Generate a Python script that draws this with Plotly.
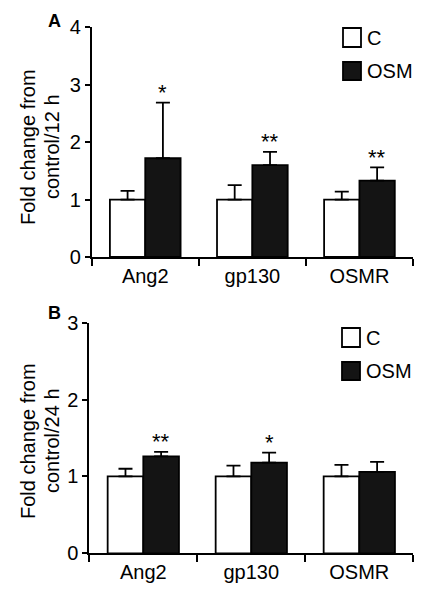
import plotly.graph_objects as go

categories = ["Ang2", "gp130", "OSMR"]

# Panel A (12 h)
a_c = [1.0, 1.0, 1.0]
a_c_err = [0.15, 0.25, 0.14]
a_osm = [1.72, 1.60, 1.33]
a_osm_err = [0.97, 0.23, 0.23]
a_stars = ["*", "**", "**"]
a_title = ["Fold change from", "control/12 h"]

# Panel B (24 h)
b_c = [1.0, 1.0, 1.0]
b_c_err = [0.10, 0.14, 0.15]
b_osm = [1.26, 1.18, 1.06]
b_osm_err = [0.06, 0.13, 0.13]
b_stars = ["**", "*", ""]
b_title = ["Fold change from", "control/24 h"]

a_ticks = [0, 1, 2, 3, 4]
b_ticks = [0, 1, 2, 3]

FONT = "Liberation Sans, Arial, sans-serif"
BARGAP = 0.34
OFF = 8                      # page body margin
W, H = 436 - OFF, 599 - OFF


def px(x):
    return (x - OFF) / W


def py(y):
    return 1 - (y - OFF) / H


fig = go.Figure()


def add_panel(c, cerr, osm, oerr, xa, ya):
    fig.add_trace(go.Bar(
        x=categories, y=c, name="C", xaxis=xa, yaxis=ya, showlegend=False,
        marker=dict(color="white", line=dict(color="black", width=1.8)),
        error_y=dict(type="data", symmetric=False, array=cerr,
                     arrayminus=[0] * len(cerr), color="black", thickness=1.8, width=7),
    ))
    fig.add_trace(go.Bar(
        x=categories, y=osm, name="OSM", xaxis=xa, yaxis=ya, showlegend=False,
        marker=dict(color="#141414", line=dict(color="black", width=1.8)),
        error_y=dict(type="data", symmetric=False, array=oerr,
                     arrayminus=[0] * len(oerr), color="black", thickness=1.8, width=7),
    ))


add_panel(a_c, a_c_err, a_osm, a_osm_err, "x", "y")
add_panel(b_c, b_c_err, b_osm, b_osm_err, "x2", "y2")

line_common = dict(showline=True, linecolor="black", linewidth=1.8,
                   showgrid=False, zeroline=False, ticks="outside",
                   tickcolor="black", tickwidth=1.8, automargin=False)
xtf = dict(family=FONT, size=20, color="black")
ytf = dict(family=FONT, size=20, color="black")

fig.update_layout(
    width=W, height=H,
    margin=dict(l=0, r=0, t=0, b=0, pad=0, autoexpand=False),
    paper_bgcolor="white", plot_bgcolor="white",
    showlegend=False,
    barmode="group", bargap=BARGAP, bargroupgap=0,
    xaxis=dict(domain=[px(91.7), px(413)], anchor="y", tickson="boundaries",
               ticklen=7, range=[-0.5, 2.5], tickfont=xtf, **line_common),
    yaxis=dict(domain=[py(257), py(27.3)], anchor="x", range=[0, 4],
               tickvals=a_ticks, ticklen=5, tickfont=ytf, **line_common),
    xaxis2=dict(domain=[px(89.3), px(413.3)], anchor="y2", tickson="boundaries",
                ticklen=7, range=[-0.5, 2.5], tickfont=xtf, **line_common),
    yaxis2=dict(domain=[py(553.3), py(322.7)], anchor="x2", range=[0, 3],
                tickvals=b_ticks, ticklen=5, tickfont=ytf, **line_common),
)

# y-axis titles (two rotated lines each)
for lines, yc in [(a_title, 147), (b_title, 441)]:
    for text, xc in zip(lines, [28, 52]):
        fig.add_annotation(x=px(xc), y=py(yc), xref="paper", yref="paper", text=text,
                           textangle=-90, showarrow=False, xanchor="center", yanchor="middle",
                           font=dict(family=FONT, size=20, color="black"))

# significance stars over OSM bars
osm_off = (1 - BARGAP) / 4
for xa, ya, vals, errs, stars in [("x", "y", a_osm, a_osm_err, a_stars),
                                  ("x2", "y2", b_osm, b_osm_err, b_stars)]:
    for i, s in enumerate(stars):
        if s:
            fig.add_annotation(x=i + osm_off, y=vals[i] + errs[i], xref=xa, yref=ya,
                               text=s, showarrow=False, yanchor="middle", yshift=10,
                               font=dict(family=FONT, size=22, color="black"))

# panel letters
fig.add_annotation(x=px(46), y=py(21), xref="paper", yref="paper", text="<b>A</b>",
                   showarrow=False, xanchor="left", yanchor="middle",
                   font=dict(family=FONT, size=18, color="black"))
fig.add_annotation(x=px(46), y=py(313), xref="paper", yref="paper", text="<b>B</b>",
                   showarrow=False, xanchor="left", yanchor="middle",
                   font=dict(family=FONT, size=18, color="black"))

# legends (one per panel)
legend_specs = [
    (343, [(28, 47, "white", "C"), (62, 80, "#141414", "OSM")]),
    (342, [(328, 347, "white", "C"), (362, 380, "#141414", "OSM")]),
]
for x0, items in legend_specs:
    for y0, y1, col, label in items:
        fig.add_shape(type="rect", xref="paper", yref="paper",
                      x0=px(x0), x1=px(x0 + 18), y0=py(y1), y1=py(y0),
                      fillcolor=col, line=dict(color="black", width=1.8))
        fig.add_annotation(x=px(x0 + 22), y=py((y0 + y1) / 2), xref="paper", yref="paper",
                           text=label, showarrow=False, xanchor="left", yanchor="middle",
                           font=dict(family=FONT, size=20, color="black"))

fig.write_html("out.html")
